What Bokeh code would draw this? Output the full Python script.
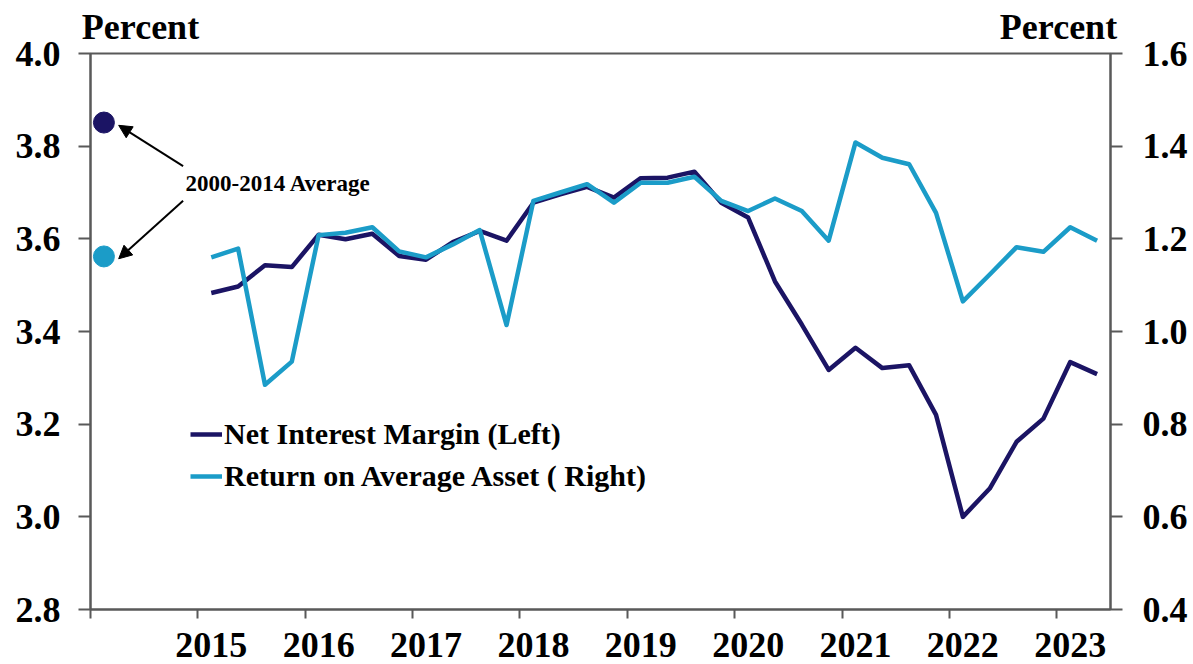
from bokeh.plotting import figure
from bokeh.models import (Range1d, LinearAxis, FixedTicker, NumeralTickFormatter,
                          Legend, LegendItem, Label, Arrow, NormalHead)
from bokeh.embed import file_html
from bokeh.resources import INLINE

# ---------------- data ----------------
quarters = ["2015Q1", "2015Q2", "2015Q3", "2015Q4",
            "2016Q1", "2016Q2", "2016Q3", "2016Q4",
            "2017Q1", "2017Q2", "2017Q3", "2017Q4",
            "2018Q1", "2018Q2", "2018Q3", "2018Q4",
            "2019Q1", "2019Q2", "2019Q3", "2019Q4",
            "2020Q1", "2020Q2", "2020Q3", "2020Q4",
            "2021Q1", "2021Q2", "2021Q3", "2021Q4",
            "2022Q1", "2022Q2", "2022Q3", "2022Q4",
            "2023Q1", "2023Q2"]

nim = [3.483, 3.497, 3.543, 3.539,
       3.609, 3.599, 3.611, 3.563,
       3.555, 3.593, 3.617, 3.596,
       3.678, 3.696, 3.712, 3.689,
       3.731, 3.732, 3.745, 3.678,
       3.646, 3.508, 3.415, 3.317,
       3.365, 3.321, 3.327, 3.220,
       3.000, 3.061, 3.162, 3.212,
       3.334, 3.308]

roa = [1.160, 1.179, 0.885, 0.935,
       1.208, 1.213, 1.225, 1.173,
       1.160, 1.188, 1.219, 1.014,
       1.282, 1.300, 1.318, 1.278,
       1.321, 1.321, 1.334, 1.282,
       1.260, 1.287, 1.260, 1.196,
       1.408, 1.375, 1.361, 1.256,
       1.065, 1.123, 1.182, 1.172,
       1.225, 1.196]

nim_avg_2000_2014 = 3.851
roa_avg_2000_2014 = 1.162

year_labels = ["2015", "2016", "2017", "2018", "2019", "2020", "2021", "2022", "2023"]
left_ticks = [2.8, 3.0, 3.2, 3.4, 3.6, 3.8, 4.0]
right_ticks = [0.4, 0.6, 0.8, 1.0, 1.2, 1.4, 1.6]
unit_header = "Percent"

# ---------------- layout helpers ----------------
# category slots: slot 0 = 2000-2014 average, slots 1-3 blank, slots 4.. = quarters
n_slots = 4 + len(quarters)
x_q = [4 + i + 0.5 for i in range(len(quarters))]
x_avg = 0.5
year_pos = [4 + quarters.index(y + "Q1") + 0.5 for y in year_labels]
year_bounds = [0] + [4 + quarters.index(y + "Q1") for y in year_labels]

NAVY = "#1B1464"
BLUE = "#1B9CC8"
AXIS = "#595959"
FONT = "Liberation Serif"
FRAME_W, FRAME_H = 1020, 556

p = figure(frame_width=FRAME_W, frame_height=FRAME_H,
           min_border_left=90, min_border_right=83,
           min_border_top=53, min_border_bottom=55,
           x_range=Range1d(0, n_slots), y_range=Range1d(2.8, 4.0),
           output_backend="svg", toolbar_location=None,
           background_fill_color="white", border_fill_color="white")
p.extra_y_ranges = {"right": Range1d(0.4, 1.6)}
p.extra_x_ranges = {"px": Range1d(0, FRAME_W)}

p.xgrid.grid_line_color = None
p.ygrid.grid_line_color = None
p.outline_line_color = AXIS
p.outline_line_width = 2

# x axis
xa = p.xaxis[0]
xa.ticker = FixedTicker(ticks=year_pos, minor_ticks=year_bounds)
xa.major_label_overrides = {pos: lab for pos, lab in zip(year_pos, year_labels)}
xa.major_tick_out = 0
xa.major_tick_in = 0
xa.minor_tick_out = 9
xa.minor_tick_in = 0
xa.minor_tick_line_color = AXIS
xa.minor_tick_line_width = 2
xa.axis_line_color = AXIS
xa.axis_line_width = 2
xa.major_label_standoff = 14
xa.major_label_text_font = FONT
xa.major_label_text_font_style = "bold"
xa.major_label_text_font_size = "36px"
xa.major_label_text_color = "black"

# left axis
ya = p.yaxis[0]
ya.ticker = FixedTicker(ticks=left_ticks)
ya.formatter = NumeralTickFormatter(format="0.0")
ya.major_tick_out = 12
ya.major_tick_in = 0
ya.minor_tick_out = 0
ya.minor_tick_in = 0
ya.major_tick_line_color = AXIS
ya.major_tick_line_width = 2
ya.axis_line_color = AXIS
ya.axis_line_width = 2
ya.major_label_standoff = 18
ya.major_label_text_font = FONT
ya.major_label_text_font_style = "bold"
ya.major_label_text_font_size = "36px"
ya.major_label_text_color = "black"

# right axis
ra = LinearAxis(y_range_name="right", ticker=FixedTicker(ticks=right_ticks),
                formatter=NumeralTickFormatter(format="0.0"))
ra.major_tick_out = 12
ra.major_tick_in = 0
ra.minor_tick_out = 0
ra.minor_tick_in = 0
ra.major_tick_line_color = AXIS
ra.major_tick_line_width = 2
ra.axis_line_color = AXIS
ra.axis_line_width = 2
ra.major_label_standoff = 20
ra.major_label_text_font = FONT
ra.major_label_text_font_style = "bold"
ra.major_label_text_font_size = "36px"
ra.major_label_text_color = "black"
p.add_layout(ra, "right")

# "Percent" unit headers above each value axis (text-only axis above the frame)
hdr_pos = [50, 968]
ta = LinearAxis(x_range_name="px", ticker=FixedTicker(ticks=hdr_pos, minor_ticks=[]),
                major_label_overrides={pos: unit_header for pos in hdr_pos})
ta.axis_line_color = None
ta.major_tick_line_color = None
ta.minor_tick_line_color = None
ta.major_tick_out = 0
ta.major_tick_in = 0
ta.major_label_standoff = 7
ta.major_label_text_font = FONT
ta.major_label_text_font_style = "bold"
ta.major_label_text_font_size = "36px"
ta.major_label_text_color = "black"
p.add_layout(ta, "above")

# lines
r_nim = p.line(x_q, nim, line_color=NAVY, line_width=4.5, line_join="round")
r_roa = p.line(x_q, roa, y_range_name="right", line_color=BLUE, line_width=4.5, line_join="round")

# 2000-2014 averages
p.scatter([x_avg], [nim_avg_2000_2014], size=21, fill_color=NAVY, line_color=NAVY)
p.scatter([x_avg], [roa_avg_2000_2014], y_range_name="right", size=21,
          fill_color=BLUE, line_color=BLUE)

# annotation text and arrows
p.add_layout(Label(x=3.54, y=3.719, text="2000-2014 Average", text_font=FONT,
                   text_font_style="bold", text_font_size="23px",
                   text_baseline="middle", text_align="left", text_color="black"))
p.add_layout(Arrow(end=NormalHead(size=13, fill_color="black", line_color="black"),
                   x_start=3.45, y_start=3.757, x_end=1.05, y_end=3.845,
                   line_color="black", line_width=2))
p.add_layout(Arrow(end=NormalHead(size=13, fill_color="black", line_color="black"),
                   x_start=3.45, y_start=3.682, x_end=1.05, y_end=3.557,
                   line_color="black", line_width=2))

# legend
legend = Legend(items=[LegendItem(label="Net Interest Margin (Left)", renderers=[r_nim]),
                       LegendItem(label="Return on Average Asset ( Right)", renderers=[r_roa])],
                location=(100, 116), orientation="vertical",
                glyph_width=32, glyph_height=20, label_standoff=2, spacing=8,
                padding=0, margin=0,
                label_text_font=FONT, label_text_font_style="bold",
                label_text_font_size="30px", label_text_color="black",
                background_fill_alpha=0, border_line_color=None)
p.add_layout(legend)

open("out.html", "w").write(file_html(p, INLINE))
